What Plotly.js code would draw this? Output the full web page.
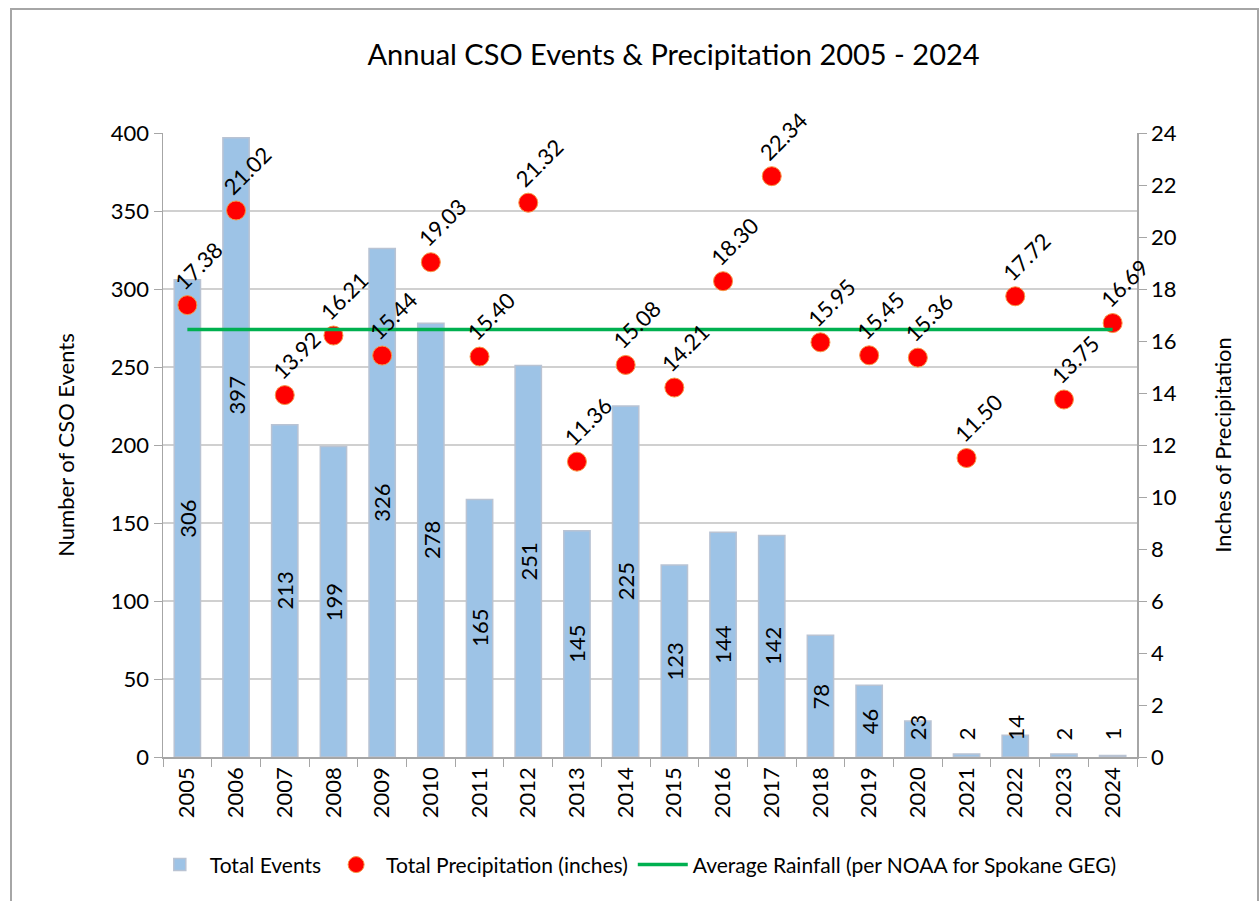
<!DOCTYPE html>
<html>
<head>
<meta charset="utf-8">
<script src="https://cdn.plot.ly/plotly-3.0.1.min.js"></script>
<style>
  html, body { margin: 0; padding: 0; background: #fff; }
  #frame { position: absolute; left: 10px; top: 8px; width: 1249px; height: 900px; border: 2px solid #A6A6A6; border-bottom: none; box-sizing: border-box; pointer-events: none; z-index: 10; }
  #chart { width: 1259px; height: 901px; }
</style>
</head>
<body>
<div id="chart"></div>
<div id="frame"></div>
<script>
const years = ['2005','2006','2007','2008','2009','2010','2011','2012','2013','2014','2015','2016','2017','2018','2019','2020','2021','2022','2023','2024'];
const totalEvents = [306, 397, 213, 199, 326, 278, 165, 251, 145, 225, 123, 144, 142, 78, 46, 23, 2, 14, 2, 1];
const precipitation = [17.38, 21.02, 13.92, 16.21, 15.44, 19.03, 15.40, 21.32, 11.36, 15.08, 14.21, 18.30, 22.34, 15.95, 15.45, 15.36, 11.50, 17.72, 13.75, 16.69];
const averageRainfall = 16.44;
const avgLine = years.map(() => averageRainfall);

const FONT = 'Lato, "Liberation Sans", Arial, sans-serif';

const traces = [
  {
    type: 'bar', name: 'Total Events', x: years, y: totalEvents,
    marker: { color: '#9DC3E6', line: { color: '#B9C3D3', width: 1.5 } }
  },
  {
    type: 'scatter', mode: 'markers', name: 'Total Precipitation (inches)', x: years, y: precipitation, yaxis: 'y2',
    marker: { color: '#FF0000', size: 19, line: { color: '#F79646', width: 1 } }
  },
  {
    type: 'scatter', mode: 'lines', name: 'Average Rainfall (per NOAA for Spokane GEG)', x: years, y: avgLine, yaxis: 'y2',
    line: { color: '#00B050', width: 3.5 }
  }
];

const annotations = [];
totalEvents.forEach((v, i) => {
  const digits = String(v).length;
  const yv = v >= 40 ? v / 2 : 11 + digits * 4;
  annotations.push({
    x: i, y: yv, xref: 'x', yref: 'y', text: String(v), showarrow: false,
    textangle: -90, font: { family: FONT, size: 22, color: '#000' },
    yshift: i === 1 ? 52 : 0
  });
});
precipitation.forEach((p, i) => {
  annotations.push({
    x: i, y: p, xref: 'x', yref: 'y2', text: p.toFixed(2), showarrow: false,
    textangle: -45, font: { family: FONT, size: 22, color: '#000' },
    xshift: 11, yshift: 40
  });
});

const layout = {
  width: 1259, height: 901,
  margin: { l: 163, r: 122, t: 133, b: 144 },
  paper_bgcolor: '#fff', plot_bgcolor: '#fff',
  font: { family: FONT, size: 22, color: '#000' },
  title: { text: 'Annual CSO Events & Precipitation 2005 - 2024', x: 0.535, xanchor: 'center', xref: 'container', yref: 'container', y: 0.939, yanchor: 'middle', font: { family: FONT, size: 29, color: '#000' } },
  bargap: 0.46,
  showlegend: true,
  legend: { orientation: 'h', xref: 'container', yref: 'container', x: 0.505, xanchor: 'center', y: 0.04, yanchor: 'middle', bgcolor: 'rgba(0,0,0,0)', font: { family: FONT, size: 21 }, itemwidth: 50 },
  xaxis: {
    type: 'category', range: [-0.5, years.length - 0.5], autorange: false, tickangle: -90, showline: true, linecolor: '#A6A6A6', linewidth: 1.5,
    ticks: 'outside', tickson: 'boundaries', ticklen: 8, tickcolor: '#A6A6A6', showgrid: false,
    tickfont: { family: FONT, size: 22 }
  },
  yaxis: {
    range: [0, 400], dtick: 50, showline: true, linecolor: '#A6A6A6', linewidth: 1.5,
    ticks: 'outside', ticklen: 8, tickcolor: '#A6A6A6', gridcolor: '#D0D0D0', gridwidth: 1.5,
    tickfont: { family: FONT, size: 22 }, zeroline: false,
    title: { text: 'Number of CSO Events', font: { family: FONT, size: 22 }, standoff: 30 }
  },
  yaxis2: {
    range: [0, 24], dtick: 2, overlaying: 'y', side: 'right', showline: true, linecolor: '#A6A6A6', linewidth: 1.5,
    ticks: 'outside', ticklen: 8, tickcolor: '#A6A6A6', showgrid: false, zeroline: false,
    tickfont: { family: FONT, size: 22 },
    title: { text: 'Inches of Precipitation', font: { family: FONT, size: 22 }, standoff: 40 }
  },
  annotations: annotations
};

Plotly.newPlot('chart', traces, layout, { displayModeBar: false, staticPlot: true });
</script>
</body>
</html>
